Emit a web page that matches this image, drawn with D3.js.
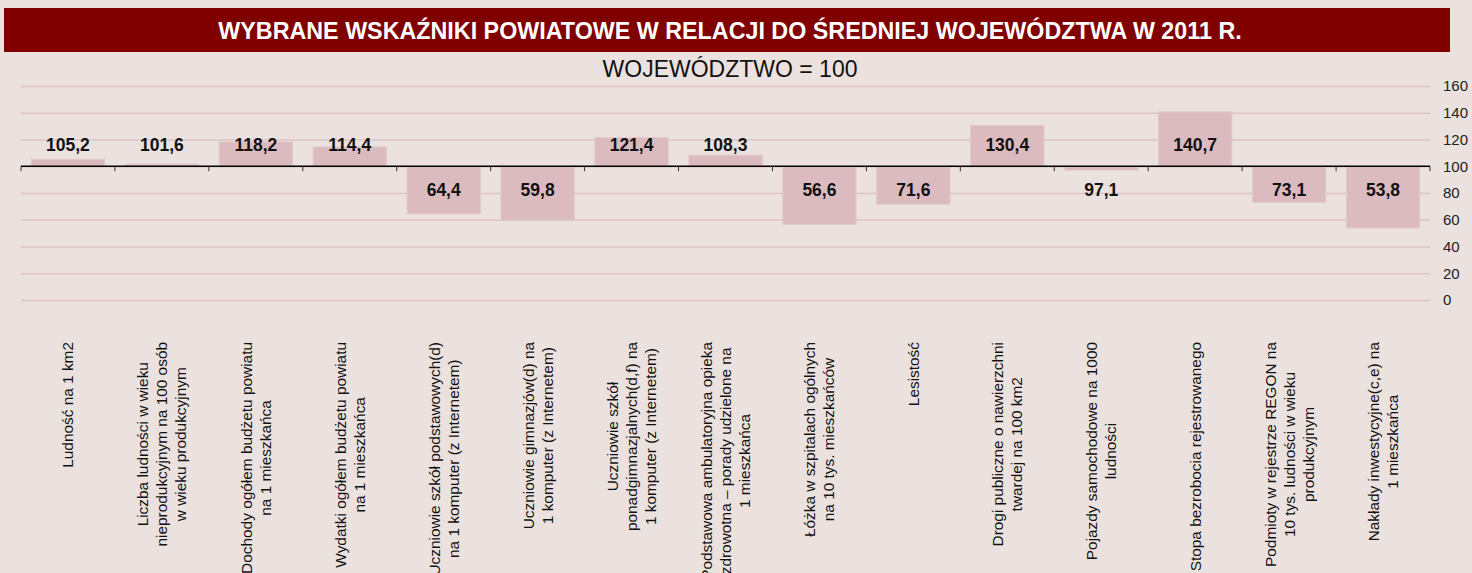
<!DOCTYPE html>
<html>
<head>
<meta charset="utf-8">
<script src="https://cdn.jsdelivr.net/npm/d3@7"></script>
<style>
  html, body { margin: 0; padding: 0; background: #ebe1df; overflow: hidden; }
  svg { display: block; font-family: "Liberation Sans", Arial, sans-serif; }
</style>
</head>
<body>
<svg id="chart" width="1472" height="573"></svg>
<script>
const title = "WYBRANE WSKAŹNIKI POWIATOWE W RELACJI DO ŚREDNIEJ WOJEWÓDZTWA W 2011 R.";
const subtitle = "WOJEWÓDZTWO = 100";

const categories = [
  ["Ludność na 1 km2"],
  ["Liczba ludności w wieku", "nieprodukcyjnym na 100 osób", "w wieku produkcyjnym"],
  ["Dochody ogółem budżetu powiatu", "na 1 mieszkańca"],
  ["Wydatki ogółem budżetu powiatu", "na 1 mieszkańca"],
  ["Uczniowie szkół podstawowych(d)", "na 1 komputer (z Internetem)"],
  ["Uczniowie gimnazjów(d) na", "1 komputer (z Internetem)"],
  ["Uczniowie szkół", "ponadgimnazjalnych(d,f) na", "1 komputer (z Internetem)"],
  ["Podstawowa ambulatoryjna opieka", "zdrowotna – porady udzielone na", "1 mieszkańca"],
  ["Łóżka w szpitalach ogólnych", "na 10 tys. mieszkańców"],
  ["Lesistość"],
  ["Drogi publiczne o nawierzchni", "twardej na 100 km2"],
  ["Pojazdy samochodowe na 1000", "ludności"],
  ["Stopa bezrobocia rejestrowanego"],
  ["Podmioty w rejestrze REGON na", "10 tys. ludności w wieku", "produkcyjnym"],
  ["Nakłady inwestycyjne(c,e) na", "1 mieszkańca"]
];
const values = [105.2, 101.6, 118.2, 114.4, 64.4, 59.8, 121.4, 108.3, 56.6, 71.6, 130.4, 97.1, 140.7, 73.1, 53.8];
const yTicks = [0, 20, 40, 60, 80, 100, 120, 140, 160];
const baseValue = 100;

const svg = d3.select("#chart");

// Title bar
svg.append("rect").attr("x", 4).attr("y", 8).attr("width", 1446).attr("height", 44).attr("fill", "#800000");
svg.append("text").attr("x", 730).attr("y", 38.5).attr("text-anchor", "middle")
  .attr("fill", "#ffffff").attr("font-weight", "bold").attr("font-size", 23.3).text(title);
svg.append("text").attr("x", 730).attr("y", 77).attr("text-anchor", "middle")
  .attr("fill", "#111").attr("font-size", 23).text(subtitle);

const x = d3.scaleBand().domain(d3.range(categories.length)).range([21, 1430]).paddingInner(0.22).paddingOuter(0.11);
const y = d3.scaleLinear().domain([0, 160]).range([300, 86]);

// gridlines
svg.append("g").selectAll("line").data(yTicks).join("line")
  .attr("x1", 21).attr("x2", 1430)
  .attr("y1", d => y(d) + 0.5).attr("y2", d => y(d) + 0.5)
  .attr("stroke", "#dec4c7").attr("stroke-width", 1.3);

// y axis (right)
const yAxis = d3.axisRight(y).tickValues(yTicks).tickSize(0).tickPadding(0).tickFormat(d3.format("d"));
const ya = svg.append("g").attr("transform", "translate(1443,0)").call(yAxis);
ya.select(".domain").remove();
ya.selectAll("text").attr("font-size", 15).attr("fill", "#222").attr("font-family", "Liberation Sans, Arial, sans-serif");

// bars
svg.append("g").selectAll("rect").data(values).join("rect")
  .attr("x", (d, i) => x(i))
  .attr("width", x.bandwidth())
  .attr("y", d => Math.min(y(d), y(baseValue)))
  .attr("height", d => Math.abs(y(d) - y(baseValue)))
  .attr("fill", "#dbbac0")
  .attr("stroke", "#e2c8cc").attr("stroke-width", 1);

// axis line at 100
const step = x.step();
const x0 = x(0) - step * x.paddingInner() / 2;
svg.append("line").attr("x1", 21).attr("x2", 1430)
  .attr("y1", y(baseValue)).attr("y2", y(baseValue))
  .attr("stroke", "#000").attr("stroke-width", 1.5);
svg.append("g").selectAll("line").data(d3.range(categories.length + 1)).join("line")
  .attr("x1", i => x0 + i * step).attr("x2", i => x0 + i * step)
  .attr("y1", y(baseValue)).attr("y2", y(baseValue) + 5)
  .attr("stroke", "#333").attr("stroke-width", 1);

// value labels
svg.append("g").selectAll("text").data(values).join("text")
  .attr("x", (d, i) => x(i) + x.bandwidth() / 2)
  .attr("y", d => d >= baseValue ? y(baseValue) - 21 : y(baseValue) + 23.5)
  .attr("dominant-baseline", "central")
  .attr("text-anchor", "middle")
  .attr("font-weight", "bold").attr("font-size", 17.5).attr("fill", "#111")
  .text(d => d3.format(".1f")(d).replace(".", ","));

// category labels (rotated)
const lh = 19;
const labG = svg.append("g");
categories.forEach((lines, i) => {
  const cx = x(i) + x.bandwidth() / 2;
  const g = labG.append("g").attr("transform", `translate(${cx},342) rotate(-90)`);
  const texts = lines.map((ln, j) => g.append("text")
    .attr("font-size", 15.4).attr("fill", "#111")
    .attr("text-anchor", "middle").attr("dominant-baseline", "central")
    .attr("y", (j - (lines.length - 1) / 2) * lh)
    .text(ln));
  const maxW = d3.max(texts, t => t.node().getComputedTextLength());
  texts.forEach(t => t.attr("x", -maxW / 2));
});
</script>
</body>
</html>
